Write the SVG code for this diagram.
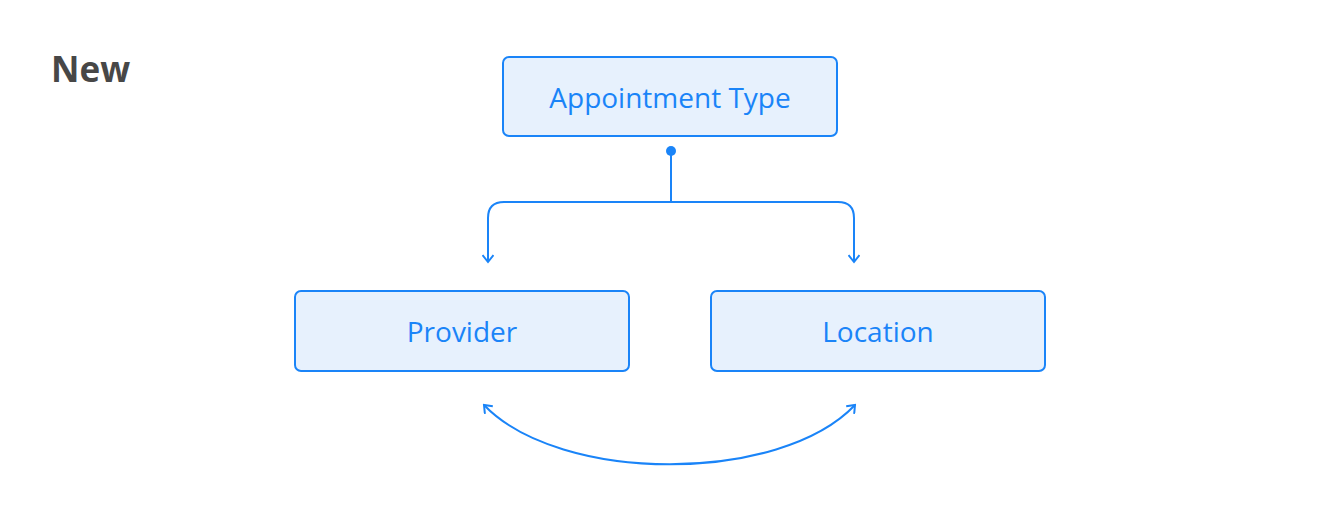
<svg xmlns="http://www.w3.org/2000/svg" width="1340" height="508" viewBox="0 0 1340 508">
<defs>
<style>
.box{fill:#e7f1fd;stroke:#1a84f8;stroke-width:2}
.lbl{font-family:"Open Sans",sans-serif;font-size:28px;fill:#1a84f8;text-anchor:middle}
.ln{fill:none;stroke:#1a84f8;stroke-width:2}
</style>
<marker id="arr" viewBox="0 0 12 12" refX="10" refY="6" markerWidth="12" markerHeight="12" markerUnits="userSpaceOnUse" orient="auto-start-reverse">
<path d="M3,0.5 L10,6 L3,11.5" fill="none" stroke="#1a84f8" stroke-width="2"/>
</marker>
</defs>
<rect width="1340" height="508" fill="#ffffff"/>
<text x="51" y="82" font-family="'Open Sans',sans-serif" font-size="35" font-weight="bold" fill="#474747">New</text>
<g id="appointment-type">
<rect class="box" x="503" y="57" width="334" height="79" rx="6"/>
<text class="lbl" x="670" y="108">Appointment Type</text>
</g>
<g id="provider">
<rect class="box" x="295" y="291" width="334" height="80" rx="6"/>
<text class="lbl" x="462" y="342">Provider</text>
</g>
<g id="location">
<rect class="box" x="711" y="291" width="334" height="80" rx="6"/>
<text class="lbl" x="878" y="342">Location</text>
</g>
<g id="connectors">
<circle cx="671" cy="151" r="5" fill="#1a84f8"/>
<path class="ln" d="M671,151 V202"/>
<path class="ln" d="M671,202 H504 Q488,202 488,218 V262" marker-end="url(#arr)"/>
<path class="ln" d="M671,202 H838 Q854,202 854,218 V262" marker-end="url(#arr)"/>
<path class="ln" d="M484,405 C560,484 780,484 855,405" marker-start="url(#arr)" marker-end="url(#arr)"/>
</g>
</svg>
